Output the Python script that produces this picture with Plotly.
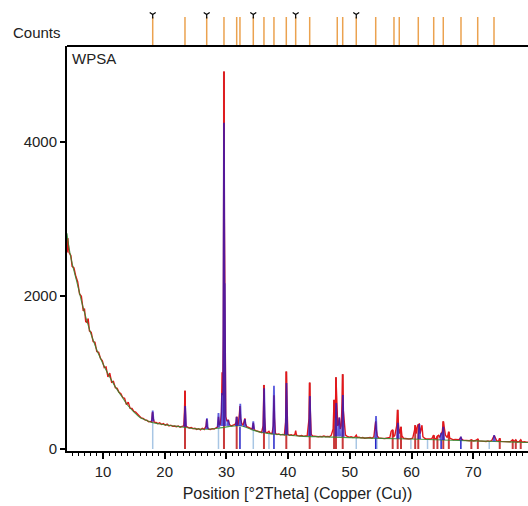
import plotly.graph_objects as go

# ---------------- data ----------------
# background (green)
bg_theta = [4.17, 4.5, 5.0, 5.5, 6.0, 6.5, 7.0, 7.5, 8.0, 8.5, 9.0, 9.5, 10.0, 11.0, 12.0, 13.0,
            14.0, 15.0, 16.0, 17.0, 18.0, 19.0, 20.0, 22.0, 25.0, 27.0, 29.0, 31.0, 32.5, 34.0,
            35.0, 36.0, 37.0, 38.0, 40.0, 42.0, 46.0, 50.0, 55.0, 60.0, 65.0, 70.0, 75.0, 79.0]
bg_counts = [2810, 2620, 2420, 2260, 2100, 1930, 1780, 1640, 1510, 1400, 1290, 1200, 1110, 950, 810, 690,
             570, 485, 410, 375, 345, 330, 315, 295, 262, 258, 275, 298, 300, 255,
             230, 212, 200, 192, 182, 168, 158, 148, 138, 130, 118, 106, 95, 85]

# observed profile (red)
obs_theta = [4.2, 4.3, 4.5, 4.8, 5.0, 5.3, 5.6, 5.9, 6.2, 6.5, 6.8, 7.0, 7.2, 7.4, 7.6, 7.8, 8.1, 8.4, 8.7,
             9.0, 9.3, 9.6, 9.9, 10.2, 10.5, 10.8, 11.1, 11.4, 11.7, 12.0, 12.3, 12.6, 12.9, 13.2, 13.5,
             13.8, 14.1, 14.4, 14.7, 15.0, 15.3, 15.6, 15.9, 16.2, 16.5, 16.8, 17.1, 17.4, 17.7, 17.9,
             18.0, 18.06, 18.15, 18.3, 18.6, 18.9, 19.2, 19.5, 19.8, 20.1, 20.4, 20.7, 21.0, 21.3, 21.6,
             21.9, 22.2, 22.5, 22.8, 23.1, 23.22, 23.29, 23.36, 23.45, 23.7, 24.0, 24.3, 24.6, 24.9, 25.2,
             25.5, 25.8, 26.1, 26.4, 26.7, 26.81, 26.9, 27.1, 27.4, 27.7, 28.0, 28.3, 28.6, 28.72, 28.85,
             29.0, 29.2, 29.3, 29.4, 29.5, 29.61, 29.68, 29.72, 29.8, 29.9, 30.1, 30.3, 30.5, 30.8, 31.1,
             31.4, 31.6, 31.67, 31.75, 31.9, 32.1, 32.2, 32.3, 32.5, 32.7, 32.9, 33.0, 33.1, 33.3, 33.6,
             33.9, 34.2, 34.36, 34.5, 34.8, 35.1, 35.4, 35.7, 35.95, 36.09, 36.2, 36.35, 36.6, 36.9, 37.1,
             37.4, 37.6, 37.71, 37.8, 37.95, 38.2, 38.5, 38.8, 39.1, 39.4, 39.6, 39.71, 39.8, 39.95, 40.2,
             40.5, 40.8, 41.1, 41.23, 41.35, 41.6, 41.9, 42.2, 42.5, 42.8, 43.1, 43.4, 43.5, 43.6, 43.75,
             44.0, 44.3, 44.6, 44.9, 45.2, 45.5, 45.8, 46.1, 46.4, 46.7, 47.0, 47.3, 47.45, 47.55, 47.65,
             47.76, 47.9, 48.05, 48.2, 48.3, 48.45, 48.6, 48.75, 48.85, 48.95, 49.1, 49.3, 49.6, 49.9,
             50.2, 50.5, 50.8, 51.05, 51.2, 51.5, 51.8, 52.1, 52.4, 52.7, 53.0, 53.3, 53.6, 53.9, 54.1,
             54.2, 54.3, 54.45, 54.7, 55.0, 55.3, 55.6, 55.9, 56.2, 56.5, 56.7, 56.95, 57.1, 57.3, 57.6,
             57.76, 57.9, 58.1, 58.3, 58.45, 58.7, 59.0, 59.3, 59.6, 59.9, 60.2, 60.5, 60.6, 60.75, 60.9,
             61.1, 61.27, 61.4, 61.7, 61.85, 62.1, 62.4, 62.7, 63.0, 63.3, 63.6, 63.75, 64.0, 64.2, 64.4,
             64.55, 64.8, 65.0, 65.15, 65.3, 65.5, 65.8, 66.05, 66.2, 66.5, 66.8, 67.1, 67.4, 67.7, 68.0,
             68.15, 68.4, 68.7, 69.0, 69.4, 69.7, 70.0, 70.4, 70.75, 70.9, 71.2, 71.5, 71.8, 72.1, 72.4,
             72.7, 73.0, 73.4, 73.55, 73.8, 74.1, 74.3, 74.45, 74.8, 75.1, 75.4, 75.7, 76.0, 76.4, 76.6,
             76.9, 77.1, 77.5, 77.7, 77.9, 78.3, 78.6, 79.0]
obs_counts = [2560, 2750, 2560, 2520, 2380, 2360, 2250, 2180, 2020, 1990, 1800, 1830, 1660, 1650, 1700, 1540, 1520, 1400, 1390,
              1270, 1260, 1180, 1150, 1060, 1070, 940, 990, 870, 880, 800, 790, 740, 720, 670, 660,
              580, 610, 530, 530, 490, 480, 450, 430, 405, 400, 380, 375, 355, 360, 350,
              470, 480, 400, 350, 345, 330, 340, 320, 330, 310, 325, 300, 310, 295, 300,
              290, 300, 285, 295, 300, 520, 760, 500, 300, 285, 275, 280, 265, 270, 255,
              265, 250, 270, 255, 300, 390, 290, 260, 255, 265, 260, 270, 290, 420, 320,
              310, 480, 1000, 700, 1500, 4920, 3000, 2160, 600, 420, 360, 380, 320, 300, 310,
              320, 350, 420, 330, 310, 450, 560, 400, 330, 310, 380, 400, 330, 290, 280,
              270, 260, 340, 250, 240, 235, 225, 215, 300, 835, 420, 220, 210, 230, 205,
              200, 300, 700, 400, 200, 190, 195, 185, 190, 185, 350, 1010, 500, 195, 180,
              185, 175, 190, 240, 180, 175, 170, 175, 165, 170, 175, 400, 865, 500, 190,
              170, 165, 170, 160, 165, 160, 170, 160, 165, 160, 180, 260, 640, 500, 400,
              935, 500, 300, 330, 410, 260, 300, 600, 975, 500, 300, 180, 165, 155,
              160, 150, 155, 180, 150, 155, 145, 150, 140, 145, 140, 150, 140, 160, 300,
              360, 250, 170, 145, 140, 145, 135, 140, 145, 150, 230, 250, 160, 180, 300,
              510, 300, 200, 290, 170, 140, 135, 140, 130, 135, 140, 250, 310, 200, 280,
              320, 325, 200, 310, 160, 140, 130, 125, 130, 135, 180, 140, 130, 170, 180,
              150, 200, 230, 360, 250, 180, 150, 225, 140, 125, 120, 125, 118, 120, 150,
              125, 115, 112, 110, 108, 120, 105, 110, 130, 105, 100, 105, 100, 98, 105,
              100, 110, 175, 140, 110, 100, 140, 100, 98, 95, 100, 92, 95, 120, 95,
              120, 92, 100, 120, 90, 95, 88, 90]

# calculated profile peaks (blue): centre, height, foot level
calc_center = [18.06, 23.32, 26.85, 28.72, 29.3, 29.61, 29.72, 30.3, 31.67, 32.25, 33.0, 34.36,
               36.12, 37.71, 39.74, 43.53, 47.8, 48.3, 48.88, 54.25, 57.8, 61.27, 64.8, 65.15, 68.0, 73.4]
calc_height = [500, 560, 400, 470, 730, 4250, 2160, 380, 420, 590, 390, 360,
               790, 825, 860, 690, 600, 410, 705, 430, 340, 325, 210, 290, 160, 180]
calc_foot = [360, 290, 260, 280, 300, 300, 300, 300, 300, 300, 290, 255,
             215, 200, 185, 170, 165, 165, 160, 140, 135, 130, 120, 118, 110, 100]

# reference sticks, phase 1 (red)
red_pos = [23.29, 29.61, 31.67, 36.09, 39.71, 43.5, 47.45, 47.76, 48.85, 56.95, 57.76, 58.3,
           60.6, 61.1, 63.6, 64.2, 65.15, 66.05, 69.7, 70.75, 74.3, 76.4, 76.9, 77.7]
red_height = [760, 4920, 420, 835, 1010, 865, 640, 935, 975, 250, 510, 290,
              310, 320, 180, 170, 360, 225, 120, 130, 140, 120, 120, 120]
# reference sticks, phase 2 (blue)
blue_pos = [32.2, 37.71, 54.2, 64.8, 68.0]
blue_height = [290, 200, 140, 118, 110]
# reference sticks, phase 3 (light blue)
lblue_pos = [18.06, 28.72, 34.36, 36.9, 51.05, 54.4, 59.9, 62.6, 72.6]
lblue_height = [370, 275, 250, 205, 150, 140, 130, 125, 100]

# peak list shown above the plot (orange), with markers
top_pos = [18.06, 23.29, 26.81, 29.61, 31.67, 32.2, 34.36, 36.09, 37.71, 39.71, 41.23, 43.5,
           47.97, 48.85, 51.05, 54.2, 57.16, 58.02, 61.1, 63.6, 65.15, 68.02, 70.73, 73.37]
marked_pos = [18.06, 26.81, 34.36, 41.23, 51.05]

x_ticks = [10, 20, 30, 40, 50, 60, 70]
y_ticks = [0, 2000, 4000]


def sticks(pos, heights):
    xs, ys = [], []
    for p, h in zip(pos, heights):
        xs += [p, p, None]
        ys += [0, h, None]
    return xs, ys


def peaks(cen, hgt, foot):
    xs, ys = [], []
    for c, h, f in zip(cen, hgt, foot):
        xs += [c - 0.14, c, c + 0.14, None]
        ys += [f, h, f, None]
    return xs, ys


FONT = "Arial, Liberation Sans, sans-serif"
TXT = "#222"
fig = go.Figure()

sx, sy = sticks(lblue_pos, lblue_height)
fig.add_trace(go.Scatter(x=sx, y=sy, mode="lines", line=dict(color="#a8c6e4", width=1.5),
                         hoverinfo="skip", showlegend=False))
sx, sy = sticks(red_pos, red_height)
fig.add_trace(go.Scatter(x=sx, y=sy, mode="lines", line=dict(color="#c93a3a", width=2),
                         hoverinfo="skip", showlegend=False))
sx, sy = sticks(blue_pos, blue_height)
fig.add_trace(go.Scatter(x=sx, y=sy, mode="lines", line=dict(color="#2424c8", width=1.5),
                         hoverinfo="skip", showlegend=False))

fig.add_trace(go.Scatter(x=obs_theta, y=obs_counts, mode="lines", line=dict(color="#e4161a", width=1.4),
                         showlegend=False))
fig.add_trace(go.Scatter(x=bg_theta, y=bg_counts, mode="lines", line=dict(color="#2e8b2e", width=1.1),
                         line_shape="spline", opacity=0.85, showlegend=False))
px_, py_ = peaks(calc_center, calc_height, calc_foot)
fig.add_trace(go.Scatter(x=px_, y=py_, mode="lines", line=dict(color="#1a1ad0", width=1.8),
                         opacity=0.7, showlegend=False))

# top stick panel
tx, ty = [], []
for p in top_pos:
    tx += [p, p, None]
    ty += [0, 29, None]
fig.add_trace(go.Scatter(x=tx, y=ty, xaxis="x", yaxis="y2", mode="lines",
                         line=dict(color="#eba24f", width=1.5), showlegend=False))
fig.add_trace(go.Scatter(x=marked_pos, y=[31.5] * len(marked_pos), xaxis="x", yaxis="y2",
                         mode="markers", marker=dict(symbol="y-down", size=5,
                                                     line=dict(color="black", width=1.2)),
                         showlegend=False))

TOP = 405 / 451
fig.update_layout(
    width=528, height=506,
    margin=dict(l=67, r=0, t=0, b=55),
    paper_bgcolor="white", plot_bgcolor="white",
    font=dict(family=FONT, size=15, color=TXT),
    xaxis=dict(range=[4.17, 78.88], tickvals=x_ticks, ticks="outside", ticklen=6, tickwidth=1.5,
               tickcolor="black", showline=True, linewidth=2, linecolor="black", showgrid=False,
               zeroline=False, minor=dict(dtick=1, ticks="outside", ticklen=3, tickcolor="black",
                                          tickwidth=1, showgrid=False),
               tickfont=dict(size=15, color=TXT),
               title=dict(text="Position [°2Theta] (Copper (Cu))", font=dict(size=16, color=TXT),
                          standoff=9)),
    yaxis=dict(domain=[0, TOP], range=[-26, 5251], tickvals=y_ticks, ticks="outside", ticklen=5,
               tickwidth=1.5, tickcolor="black", showline=True, linewidth=2, linecolor="black",
               showgrid=False, zeroline=False, tickfont=dict(size=15, color=TXT)),
    yaxis2=dict(domain=[TOP, 1], range=[0, 46], visible=False, anchor="x"),
    shapes=[dict(type="line", xref="paper", yref="paper", x0=0, x1=1, y0=TOP, y1=TOP,
                 line=dict(color="black", width=2))],
    annotations=[
        dict(text="Counts", xref="paper", yref="paper", x=-0.121, y=(451 - 33) / 451,
             xanchor="left", yanchor="middle", showarrow=False, font=dict(size=15, color=TXT)),
        dict(text="WPSA", xref="paper", yref="paper", x=0.006, y=(451 - 58) / 451,
             xanchor="left", yanchor="middle", showarrow=False, font=dict(size=15, color=TXT)),
    ],
)

fig.write_html("out.html", config={"displayModeBar": False},
               post_script="document.body.style.margin='0';document.body.style.padding='0';")
